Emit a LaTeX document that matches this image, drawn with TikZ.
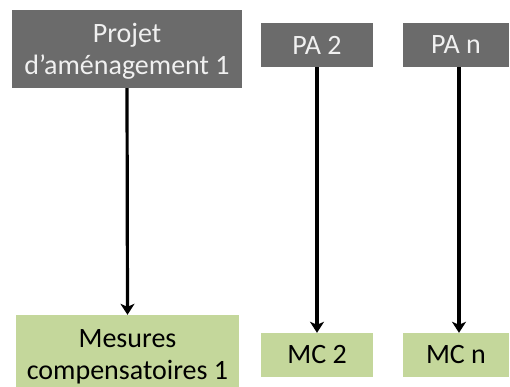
\documentclass[tikz,border=0pt]{standalone}
\usepackage{fontspec}
\setmainfont{Carlito}
\usetikzlibrary{arrows.meta}
\definecolor{pagris}{HTML}{6B6B6B}
\definecolor{mcvert}{HTML}{C4D79B}
\tikzset{
  pa/.style={fill=pagris,text=white!94!black,align=center,inner sep=0pt},
  mc/.style={fill=mcvert,text=black,align=center,inner sep=0pt},
  deuxlignes/.style={text height=57pt,text depth=6pt},
  fleche/.style={line width=3.2pt,-{Stealth[length=11pt,width=14pt,inset=3pt]}}
}
\begin{document}
\begin{tikzpicture}[x=1pt,y=-1pt,font=\fontsize{28}{32}\selectfont]
\useasboundingbox (0,0) rectangle (510,386);

% projets d'amenagement
\node[pa,deuxlignes,minimum width=230pt,minimum height=78pt] (pa1) at (127,49) {Projet\\d’aménagement 1};
\node[pa,minimum width=112pt,minimum height=44pt] (pa2) at (317,45) {PA 2};
\node[pa,minimum width=106pt,minimum height=44pt] (pan) at (456,45) {PA n};

% mesures compensatoires
\node[mc,deuxlignes,minimum width=223pt,minimum height=78pt] (mc1) at (127.5,354) {Mesures\\compensatoires 1};
\node[mc,minimum width=112pt,minimum height=44pt] (mc2) at (317,355) {MC 2};
\node[mc,minimum width=106pt,minimum height=44pt] (mcn) at (456,355) {MC n};

\draw[fleche] (pa1.south) -- (mc1.north);
\draw[fleche] (pa2.south) -- (mc2.north);
\draw[fleche] ([xshift=3pt]pan.south) -- ([xshift=3pt]mcn.north);

\end{tikzpicture}
\end{document}
